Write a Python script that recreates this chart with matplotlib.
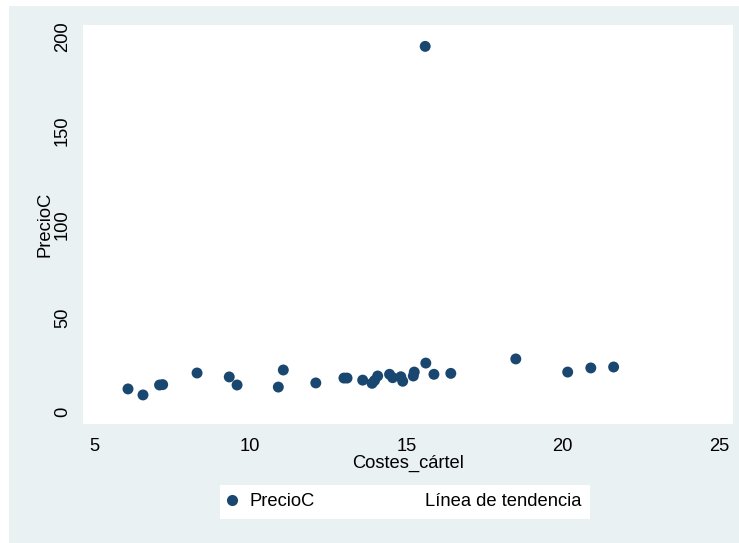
import matplotlib
matplotlib.use("Agg")
import matplotlib.pyplot as plt
from matplotlib.lines import Line2D
from matplotlib.patches import Rectangle

plt.rcParams["font.family"] = ["Liberation Sans", "DejaVu Sans"]

# Stata-like s2color palette
BG_OUTER = "#EAF1F3"
NAVY = "#1A476F"

costes_cartel = [6.09, 6.57, 7.1, 7.2, 8.3, 9.33, 9.58, 10.9, 11.06, 12.1,
                 13.0, 13.1, 13.6, 13.9, 13.98, 14.08, 14.46, 14.56, 14.82,
                 14.88, 15.22, 15.25, 15.62, 15.6, 15.88, 16.42, 18.5,
                 20.16, 20.9, 21.63]
precio_c = [12.3, 9.1, 14.4, 14.6, 20.8, 18.7, 14.4, 13.3, 22.4, 15.5,
            18.1, 18.1, 17.0, 15.3, 16.8, 19.2, 20.1, 18.3, 18.8,
            16.4, 19.2, 21.3, 26.1, 195.0, 20.1, 20.6, 28.3,
            21.3, 23.5, 24.0]

x_ticks = [5, 10, 15, 20, 25]
y_ticks = [0, 50, 100, 150, 200]

W, H = 739, 543
fig = plt.figure(figsize=(W / 100, H / 100), dpi=100)
fig.patch.set_facecolor("white")
fig.patches.append(Rectangle((9 / W, 0), 1 - 9 / W, (H - 6) / H,
                             transform=fig.transFigure, facecolor=BG_OUTER,
                             edgecolor="none", zorder=-5))

ax = fig.add_axes([83 / W, (H - 424) / H, (733 - 83) / W, (424 - 25) / H])
ax.set_zorder(2)
ax.set_facecolor("white")
for s in ax.spines.values():
    s.set_visible(False)

ax.scatter(costes_cartel, precio_c, s=62, color=NAVY, edgecolors="none",
           zorder=3, label="PrecioC")

ax.set_xlim(4.65, 25.45)
ax.set_ylim(-6.4, 206.4)
ax.set_xticks(x_ticks)
ax.set_yticks(y_ticks)
ax.tick_params(axis="both", length=0, labelsize=13.2, colors="black")
ax.tick_params(axis="x", pad=10)
ax.tick_params(axis="y", pad=8.6)
for lab in ax.get_yticklabels():
    lab.set_rotation(90)
    lab.set_va("center")

ax.set_xlabel("Costes_cártel", fontsize=13.2, labelpad=0)
ax.set_ylabel("PrecioC", fontsize=13.2, labelpad=0.5)

handles = [
    Line2D([], [], linestyle="none", marker="o", markersize=8,
           markerfacecolor=NAVY, markeredgecolor="none"),
    Line2D([], [], color="white", linewidth=1),
]
leg = fig.legend(handles, ["PrecioC", "Línea de tendencia"], ncol=2,
                 loc="center", bbox_to_anchor=(405 / W, 41 / H),
                 frameon=True, fancybox=False, framealpha=1, fontsize=13.2,
                 handlelength=0.4, handletextpad=0.73, columnspacing=4.9,
                 borderpad=0.45, borderaxespad=0)
leg.get_frame().set_facecolor("white")
leg.get_frame().set_edgecolor("none")
leg.set_zorder(3)

fig.savefig("out.png", dpi=100, facecolor="white")
